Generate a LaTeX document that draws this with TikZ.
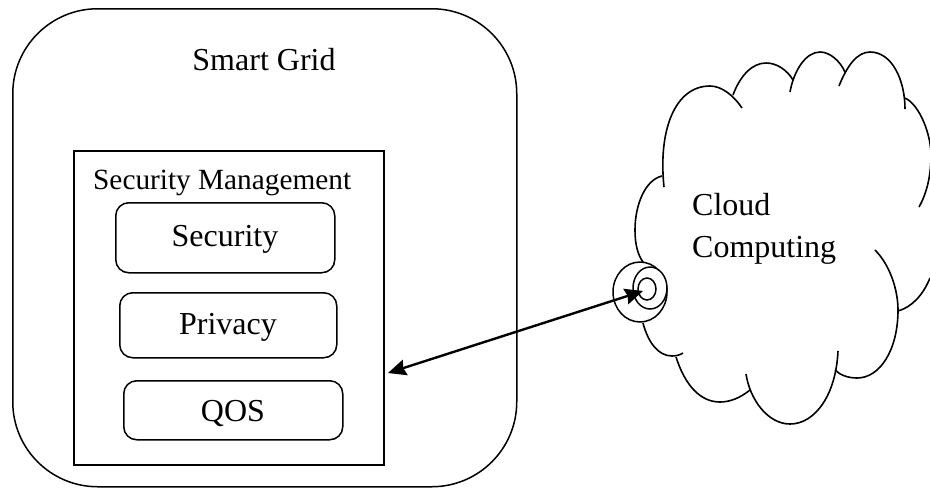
\documentclass[tikz,border=0pt]{standalone}
\usepackage{fontspec}
\setmainfont{Liberation Serif}
\usetikzlibrary{arrows.meta,shapes.geometric}
\tikzset{
  outl/.style={draw=black,line width=1.5pt},
  roundbox/.style={outl,rounded corners=13pt,anchor=north west,inner sep=0pt,font=\fontsize{32}{38}\selectfont,align=center},
  lobe/.style={draw=black,line width=1.6pt},
  ring/.style={draw=black,line width=1.5pt,ellipse,inner sep=0pt,fill=white},
  lbl/.style={inner sep=0pt,font=\fontsize{32}{38}\selectfont},
  link/.style={draw=black,line width=2.4pt,{Stealth[length=18pt,width=16pt,inset=2pt]}-{Stealth[length=18pt,width=16pt,inset=2pt]}}
}
\begin{document}
\begin{tikzpicture}[x=1pt,y=-1pt]
\useasboundingbox (0,0) rectangle (930,491);
\clip (0,0) rectangle (930,491);
% smart grid
\node[outl,rounded corners=85pt,anchor=north west,minimum width=504pt,minimum height=478pt,inner sep=0pt] (grid) at (12,8) {};
\node[lbl,anchor=base] (gridlabel) at (264,70) {Smart Grid};
\node[outl,anchor=north west,minimum width=310pt,minimum height=314pt,inner sep=0pt] (mgmt) at (73,150) {};
\node[inner sep=0pt,anchor=base west,font=\fontsize{29.3}{34}\selectfont] (mgmtlabel) at (93,189) {Security Management};
\node[roundbox,minimum width=219pt,minimum height=70pt] (sec) at (115,202) {};
\node[lbl,anchor=base] (seclabel) at (225,246) {Security};
\node[roundbox,minimum width=217pt,minimum height=65pt] (priv) at (119,292) {};
\node[lbl,anchor=base] (privlabel) at (228,334) {Privacy};
\node[roundbox,minimum width=219pt,minimum height=59pt] (qos) at (123,380) {};
\node[lbl,anchor=base] (qoslabel) at (233,421) {QOS};
% cloud
\draw[lobe] (652,267) .. controls (649,266) and (646,265) .. (643,262) .. controls (638,255) and (635,245) .. (635,230) .. controls (635,205) and (645,180) .. (662,176);
\draw[lobe] (664,187) .. controls (658,130) and (675,86) .. (710,86) .. controls (722,86) and (734,96) .. (742,108);
\draw[lobe] (733,95) .. controls (740,76) and (752,63) .. (766,63) .. controls (777,63) and (787,70) .. (793,80);
\draw[lobe] (790,92) .. controls (794,70) and (806,52) .. (820,52) .. controls (830,52) and (840,61) .. (845,72);
\draw[lobe] (839,86) .. controls (847,66) and (857,52) .. (870,52) .. controls (892,52) and (905,80) .. (905,109);
\draw[lobe] (905,98) .. controls (920,105) and (931,135) .. (931,155) .. controls (931,175) and (927,193) .. (919,207);
\draw[lobe] (875,250) .. controls (890,265) and (898,290) .. (898,310) .. controls (898,350) and (880,378) .. (857,378) .. controls (848,378) and (840,375) .. (835,370);
\draw[lobe] (898,311) .. controls (912,307) and (923,295) .. (930,278);
\draw[lobe] (838,351) .. controls (836,395) and (815,424) .. (790,424) .. controls (768,424) and (750,400) .. (746,374);
\draw[lobe] (750,390) .. controls (740,398) and (730,402) .. (720,402) .. controls (700,402) and (685,385) .. (676,357);
\draw[lobe] (683,353) .. controls (680,355) and (676,356) .. (672,356) .. controls (658,356) and (648,342) .. (643,323);
\node[ring,minimum width=54pt,minimum height=60pt] (outer) at (640,292) {};
\node[ring,minimum width=34pt,minimum height=42pt] (middle) at (650,288) {};
\node[ring,minimum width=18pt,minimum height=22pt] (inner) at (647,289) {};
\node[lbl,anchor=base west] (cloud1) at (692,215) {Cloud};
\node[lbl,anchor=base west] (cloud2) at (692,257) {Computing};
% link
\coordinate (linkstart) at (388,373);
\coordinate (linkend) at (643,291);
\draw[link] (linkstart) -- (linkend);
\end{tikzpicture}
\end{document}
